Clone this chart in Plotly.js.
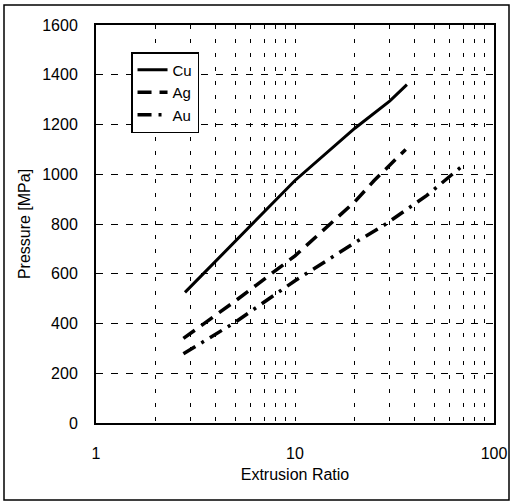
<!DOCTYPE html>
<html>
<head>
<meta charset="utf-8">
<script src="https://cdn.plot.ly/plotly-3.0.1.min.js"></script>
<style>html,body{margin:0;padding:0;background:#fff;}</style>
</head>
<body>
<div id="chart" style="width:512px;height:503px;"></div>
<script>
// Data
const cuX = [2.8, 5, 10, 20, 30, 36.5];
const cuY = [525, 730, 975, 1185, 1295, 1360];
const agX = [2.75, 5, 10, 20, 25, 36];
const agY = [340, 490, 672, 890, 975, 1100];
const auX = [2.75, 5, 10, 20, 28, 46, 68];
const auY = [278, 405, 572, 725, 795, 915, 1028];
const seriesNames = ['Cu', 'Ag', 'Au'];
const xTickVals = [1, 10, 100];
const xTickText = ['1', '10', '100'];
const yTickVals = [0, 200, 400, 600, 800, 1000, 1200, 1400, 1600];

const font = {family: 'Liberation Sans, Arial, sans-serif', color: '#000'};

const traces = [
  {x: cuX, y: cuY, name: seriesNames[0], mode: 'lines', line: {color: '#000', width: 3}},
  {x: agX, y: agY, name: seriesNames[1], mode: 'lines', line: {color: '#000', width: 3.5, dash: '14px,8px'}},
  {x: auX, y: auY, name: seriesNames[2], mode: 'lines', line: {color: '#000', width: 3.5, dash: '14px,7px,3px,7px'}}
];

const layout = {
  width: 512, height: 503,
  margin: {l: 96, r: 18, t: 25, b: 80},
  paper_bgcolor: '#fff', plot_bgcolor: '#fff',
  font: Object.assign({size: 16}, font),
  showlegend: true,
  legend: {
    x: 0.088, y: 0.932, xanchor: 'left', yanchor: 'top',
    bgcolor: '#fff', bordercolor: '#000', borderwidth: 1.5,
    font: Object.assign({size: 15}, font),
    tracegroupgap: 0, itemwidth: 30
  },
  xaxis: {
    type: 'log', range: [0, 2],
    tickvals: xTickVals, ticktext: xTickText,
    ticks: '', ticklabelstandoff: 15,
    showline: true, linecolor: '#000', linewidth: 2, mirror: true,
    showgrid: true, gridcolor: '#000', gridwidth: 1, griddash: '4px,10px',
    minor: {showgrid: true, dtick: 'D1', gridcolor: '#000', gridwidth: 1, griddash: '4px,10px', ticks: ''},
    zeroline: false,
    title: {text: 'Extrusion Ratio', font: Object.assign({size: 16}, font), standoff: 8},
    automargin: false, fixedrange: true
  },
  yaxis: {
    range: [0, 1600], tickvals: yTickVals,
    ticks: '', ticklabelstandoff: 13,
    showline: true, linecolor: '#000', linewidth: 2, mirror: true,
    showgrid: true, gridcolor: '#000', gridwidth: 1, griddash: '7px,8px',
    zeroline: false,
    title: {text: 'Pressure [MPa]', font: Object.assign({size: 16}, font), standoff: 8},
    automargin: false, fixedrange: true
  },
  shapes: [{
    type: 'rect', xref: 'paper', yref: 'paper',
    x0: (4 - 96) / 398, x1: (509 - 96) / 398,
    y0: (423 - 500) / 398, y1: (423 - 5) / 398,
    line: {color: '#000', width: 1.5}, fillcolor: 'rgba(0,0,0,0)', layer: 'above'
  }]
};

Plotly.newPlot('chart', traces, layout, {displayModeBar: false, staticPlot: true});
</script>
</body>
</html>
